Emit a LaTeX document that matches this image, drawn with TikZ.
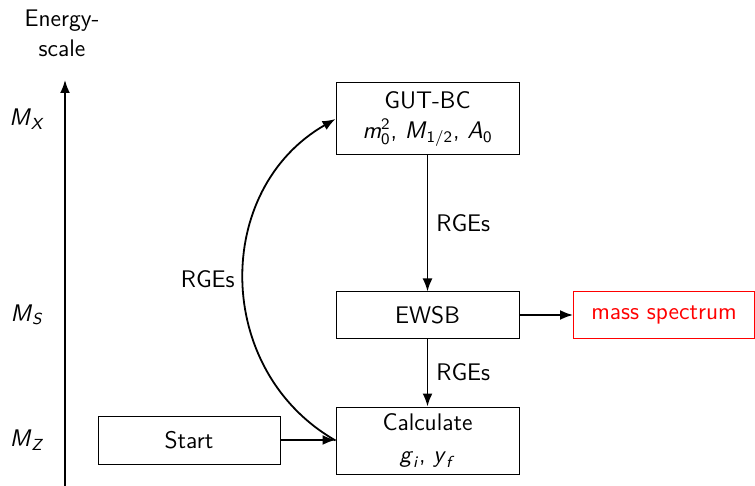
\documentclass[tikz,border=0pt]{standalone}
\usepackage{amsmath}
\usetikzlibrary{arrows.meta}
\renewcommand\familydefault{\sfdefault}
% italic sans letters for the symbols
\newcommand\sfi[1]{\textsf{\textit{#1}}}
\newcommand\sfu[1]{\textsf{#1}}
\begin{document}
\begin{tikzpicture}[x=0.5pt,y=-0.5pt,
  font=\fontsize{12}{15}\selectfont,
  stage/.style={draw,line width=0.5pt,minimum width=91.5pt,inner sep=2pt,align=center},
  flow/.style={-{Latex[length=6.5pt,width=5pt]},line width=0.9pt},
  lab/.style={inner sep=1pt}]
\useasboundingbox (0,0) rectangle (755,486);

% energy axis
\node[align=center] (title) at (62,33) {Energy-\\scale};
\coordinate (axbot) at (65,490);
\coordinate (axtop) at (65,80);
\draw[flow] (axbot) -- (axtop);
\node (mx) at (27,119) {$\sfi{M}_{\sfi{X}}$};
\node (ms) at (27,315) {$\sfi{M}_{\sfi{S}}$};
\node (mz) at (27,440) {$\sfi{M}_{\sfi{Z}}$};

% stages
\node[stage,minimum height=36pt] (gut) at (427.5,119)
  {GUT-BC\\$\sfi{m}_{\sfu{0}}^{\sfu{2}}$, $\sfi{M}_{\sfu{1/2}}$, $\sfi{A}_{\sfu{0}}$};
\node[stage,minimum height=23pt] (ewsb) at (427.5,315) {EWSB};
\node[stage,minimum height=33.5pt] (calc) at (427.5,440.5)
  {Calculate\\[1pt]$\sfi{g}_{\sfi{i}}$, $\sfi{y}_{\sfi{f}}$};
\node[stage,minimum height=24pt,minimum width=91pt] (start) at (189,440) {Start};
\node[stage,draw=red,text=red,minimum height=23pt,minimum width=90.5pt] (mass) at (664,315) {mass spectrum};

% connectors
\draw[flow] (gut) -- node[lab,right=3pt] {RGEs} (ewsb);
\draw[flow] (ewsb) -- node[lab,right=3pt] {RGEs} (calc);
\draw[flow] (ewsb) -- (mass);
\draw[flow] (start) -- (start -| calc.west);
\draw[flow] (calc.west) .. controls (213,370) and (213,189) .. (gut.west)
  node[pos=0.5,left=3pt,lab] {RGEs};
\end{tikzpicture}
\end{document}
